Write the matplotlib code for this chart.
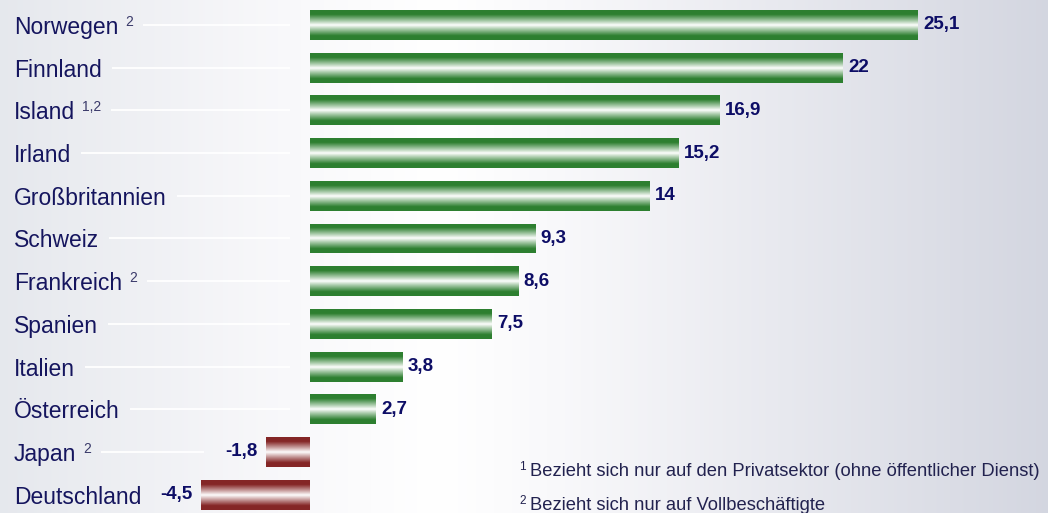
import matplotlib
matplotlib.use("Agg")
import matplotlib.pyplot as plt
import numpy as np

plt.rcParams['font.family'] = ['Liberation Sans', 'DejaVu Sans']

countries = ["Norwegen", "Finnland", "Island", "Irland", "Großbritannien", "Schweiz",
             "Frankreich", "Spanien", "Italien", "Österreich", "Japan", "Deutschland"]
notes = ["2", "", "1,2", "", "", "", "2", "", "", "", "2", ""]
values = [25.1, 22, 16.9, 15.2, 14, 9.3, 8.6, 7.5, 3.8, 2.7, -1.8, -4.5]
value_labels = ["25,1", "22", "16,9", "15,2", "14", "9,3", "8,6", "7,5", "3,8", "2,7", "-1,8", "-4,5"]
footnotes = ["Bezieht sich nur auf den Privatsektor (ohne öffentlicher Dienst)",
             "Bezieht sich nur auf Vollbeschäftigte"]

navy = "#15155e"
green = np.array([0.18, 0.50, 0.19])
red = np.array([0.52, 0.15, 0.15])

fig = plt.figure(figsize=(10.48, 5.13), dpi=100)

# background gradient
bg = fig.add_axes([0, 0, 1, 1], zorder=0)
stops_x = [0.0, 0.25, 0.42, 0.55, 1.0]
stops_c = np.array([[0.90, 0.91, 0.93], [0.97, 0.97, 0.98], [1.0, 1.0, 1.0],
                    [0.97, 0.97, 0.98], [0.83, 0.84, 0.88]])
xs = np.linspace(0, 1, 512)
grad = np.stack([np.interp(xs, stops_x, stops_c[:, k]) for k in range(3)], axis=-1)[None, :, :]
bg.imshow(grad, aspect='auto', extent=(0, 1, 0, 1))
bg.axis('off')

ax = fig.add_axes([0, 0, 1, 1], zorder=1)
ax.patch.set_alpha(0)
ax.axis('off')

px = 24.22  # pixels per unit
xlim = (-310 / px, (1048 - 310) / px)
ylim = ((513 - 25) / 42.7, -25 / 42.7)

y = np.arange(len(values))
bars = ax.barh(y, values, height=0.7, color='none', edgecolor='none')

t = np.linspace(0, 1, 64)
w = np.clip(np.abs(2 * t - 1) * 1.4, 0, 1) ** 0.95
for bar, v in zip(bars, values):
    dark = green if v > 0 else red
    col = (1 - w)[:, None] * np.ones(3) + w[:, None] * dark
    x0, y0 = bar.get_x(), bar.get_y()
    img = ax.imshow(col[:, None, :], aspect='auto',
                    extent=(x0, x0 + bar.get_width(), y0 + bar.get_height(), y0),
                    interpolation='bilinear')
    img.set_clip_path(bar)

ax.set_xlim(*xlim)
ax.set_ylim(*ylim)

label_x = 14 / 1048
val_texts = []
name_texts = []
for i, (name, note, v, lab) in enumerate(zip(countries, notes, values, value_labels)):
    nt = ax.text(label_x, i, name, transform=ax.get_yaxis_transform(), fontsize=16.5,
                 color=navy, va='center_baseline', ha='left')
    end_artist = nt
    if note:
        end_artist = ax.annotate(note, xy=(1, 1), xycoords=nt, xytext=(5, 1),
                                 textcoords='offset points', fontsize=10, color="#3a3a6a",
                                 va='top', ha='left')
    name_texts.append(end_artist)
    if v > 0:
        vt = ax.annotate(lab, xy=(v, i), xytext=(4, 0), textcoords='offset points',
                         fontsize=13.5, fontweight='bold', color="#0d0d66", va='center', ha='left')
    else:
        vt = ax.annotate(lab, xy=(v, i), xytext=(-6, 0), textcoords='offset points',
                         fontsize=13.5, fontweight='bold', color="#0d0d66", va='center', ha='right')
    val_texts.append(vt)

# thin white leader lines from the labels towards the bars
fig.canvas.draw()
r = fig.canvas.get_renderer()
inv = ax.transData.inverted()
for i, (nt, vt, v) in enumerate(zip(name_texts, val_texts, values)):
    start = nt.get_window_extent(r).x1 + 10
    end = 290 if v > 0 else vt.get_window_extent(r).x0 - 22
    if end - start > 20:
        x_start = inv.transform((start, 0))[0]
        x_end = inv.transform((end, 0))[0]
        ax.plot([x_start, x_end], [i, i], color='white', lw=1.3, solid_capstyle='butt', zorder=0.5)

for k, note in enumerate(footnotes):
    yy = 1 - (471 + 34 * k) / 513
    fig.text(530 / 1048, yy, note, fontsize=13.2, color="#22224f", va='center', ha='left')
    fig.text(526 / 1048, yy + 0.008, str(k + 1), fontsize=8.5, color="#22224f", va='center', ha='right')

fig.savefig("out.png", dpi=100)
